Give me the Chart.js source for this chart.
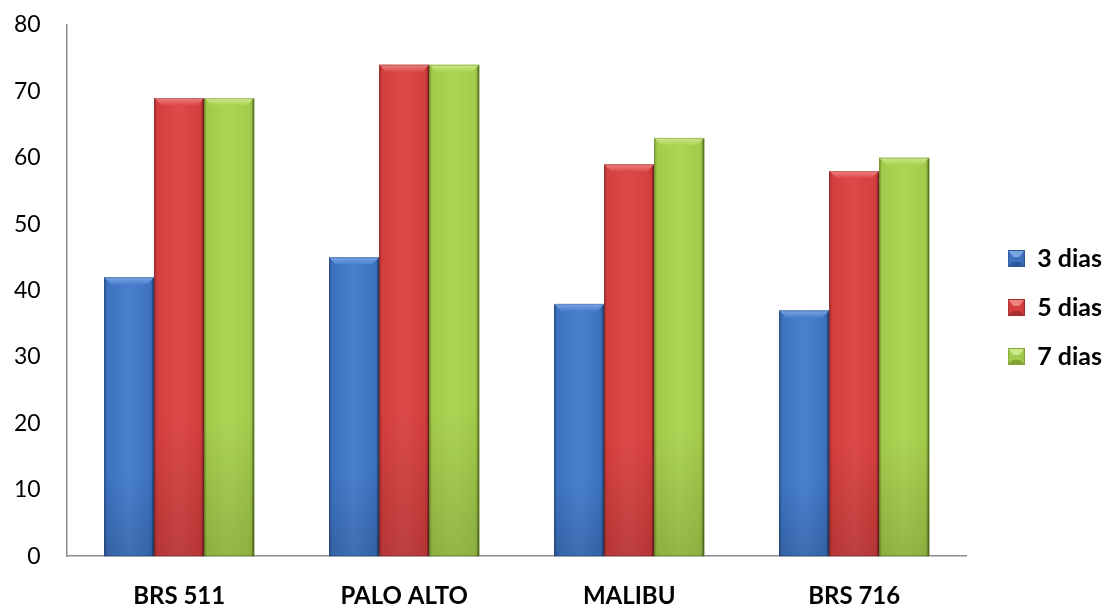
<!DOCTYPE html>
<html><head><meta charset="utf-8">
<script src="https://cdn.jsdelivr.net/npm/chart.js@4.4.1/dist/chart.umd.min.js"></script>
<style>html,body{margin:0;padding:0;background:#fff}#wrap{width:1105px;height:606px}</style>
</head><body><div id="wrap"><canvas id="c" width="1105" height="606"></canvas></div>
<script>
const categories = ['BRS 511', 'PALO ALTO', 'MALIBU', 'BRS 716'];
const seriesNames = ['3 dias', '5 dias', '7 dias'];
const dias3 = [42, 45, 38, 37];
const dias5 = [69, 74, 59, 58];
const dias7 = [69, 74, 63, 60];
const yTicks = [0, 10, 20, 30, 40, 50, 60, 70, 80];

const palette = [
  {mid:'#3C72C0', light:'#4A80CE', dark:'#2D5898', top:'#7AA6E4'},
  {mid:'#D43E3E', light:'#DC4A4A', dark:'#A52E2E', top:'#EE8282'},
  {mid:'#A3CB4B', light:'#ACD455', dark:'#7FA434', top:'#CBE88A'}
];
const FONT = 'Lato, "Open Sans", "Liberation Sans", sans-serif';

function legendIcon(p) {
  const s = 17, c = document.createElement('canvas');
  c.width = s; c.height = s;
  const g = c.getContext('2d');
  g.fillStyle = p.mid; g.fillRect(0, 0, s, s);
  const b = 5;
  g.fillStyle = p.top;
  g.beginPath(); g.moveTo(0, 0); g.lineTo(s, 0); g.lineTo(s / 2, s / 2 + 2); g.closePath(); g.fill();
  g.fillStyle = p.dark;
  g.beginPath(); g.moveTo(0, s); g.lineTo(s, s); g.lineTo(s - b, s - b); g.lineTo(b, s - b); g.closePath(); g.fill();
  g.fillStyle = p.mid;
  g.fillRect(b, b + 2, s - 2 * b, s - 2 * b - 2);
  g.strokeStyle = p.dark; g.lineWidth = 1; g.strokeRect(0.5, 0.5, s - 1, s - 1);
  return c;
}
const icons = palette.map(legendIcon);

const bevel = {
  id: 'bevel',
  afterDatasetsDraw(chart) {
    const ctx = chart.ctx;
    chart.data.datasets.forEach((ds, di) => {
      const meta = chart.getDatasetMeta(di);
      const p = palette[di];
      meta.data.forEach(bar => {
        const x0 = bar.x - bar.width / 2, x1 = bar.x + bar.width / 2;
        const y0 = bar.y, y1 = bar.base;
        const w = x1 - x0, h = y1 - y0;
        ctx.save();
        let g = ctx.createLinearGradient(x0, 0, x1, 0);
        g.addColorStop(0, p.dark);
        g.addColorStop(0.06, p.mid);
        g.addColorStop(0.5, p.light);
        g.addColorStop(0.92, p.mid);
        g.addColorStop(1, p.dark);
        ctx.fillStyle = g;
        ctx.fillRect(x0, y0, w, h);
        let gv = ctx.createLinearGradient(0, y0, 0, y1);
        gv.addColorStop(0, 'rgba(0,0,0,0)');
        gv.addColorStop(0.7, 'rgba(0,0,0,0)');
        gv.addColorStop(1, 'rgba(0,0,0,0.14)');
        ctx.fillStyle = gv;
        ctx.fillRect(x0, y0, w, h);
        const b = 7;
        ctx.beginPath();
        ctx.moveTo(x0, y0); ctx.lineTo(x1, y0); ctx.lineTo(x1 - b, y0 + b); ctx.lineTo(x0 + b, y0 + b); ctx.closePath();
        let gt = ctx.createLinearGradient(0, y0, 0, y0 + b);
        gt.addColorStop(0, p.top); gt.addColorStop(1, p.light);
        ctx.fillStyle = gt; ctx.fill();
        ctx.fillStyle = 'rgba(0,0,0,0.2)';
        ctx.fillRect(x1 - 2, y0 + 1, 2, h - 1);
        ctx.strokeStyle = 'rgba(0,0,0,0.18)'; ctx.lineWidth = 1;
        ctx.strokeRect(x0 + 0.5, y0 + 0.5, w - 1, h - 1);
        ctx.restore();
      });
    });
  }
};

const legendShift = {
  id: 'legendShift',
  afterLayout(chart) {
    const l = chart.legend;
    if (!l) return;
    l.left += 17; l.right += 17;
    l.top -= 11; l.bottom -= 11;
  }
};

new Chart(document.getElementById('c'), {
  type: 'bar',
  data: {
    labels: categories,
    datasets: [dias3, dias5, dias7].map((d, i) => ({
      label: seriesNames[i], data: d,
      backgroundColor: palette[i].mid, borderWidth: 0
    }))
  },
  plugins: [bevel, legendShift],
  options: {
    responsive: false, animation: false,
    layout: {padding: {top: 0, left: -12, right: 10, bottom: -31}},
    datasets: {bar: {barPercentage: 1, categoryPercentage: 0.667}},
    plugins: {
      tooltip: {enabled: false},
      legend: {
        position: 'right',
        labels: {
          font: {family: FONT, size: 25, weight: 'bold'}, color: '#000',
          usePointStyle: true, boxWidth: 17, boxHeight: 17, padding: 24,
          generateLabels(chart) {
            return chart.data.datasets.map((ds, i) => ({
              text: ds.label, fillStyle: palette[i].mid, strokeStyle: palette[i].dark,
              pointStyle: icons[i], lineWidth: 0, datasetIndex: i, hidden: false
            }));
          }
        }
      }
    },
    scales: {
      x: {
        grid: {display: false, drawTicks: false},
        border: {display: true, color: '#8c8c8c', width: 1.5},
        ticks: {font: {family: FONT, size: 24, weight: 'bold'}, color: '#000', padding: 26}
      },
      y: {
        min: 0, max: 80,
        afterBuildTicks(axis) { axis.ticks = yTicks.map(v => ({value: v})); },
        afterFit(axis) { axis.paddingTop = 25; axis.paddingBottom = 0; },
        grid: {display: false, drawTicks: false},
        border: {display: true, color: '#8c8c8c', width: 1.5},
        ticks: {font: {family: FONT, size: 23}, color: '#000', padding: 26}
      }
    }
  }
});
</script></body></html>
